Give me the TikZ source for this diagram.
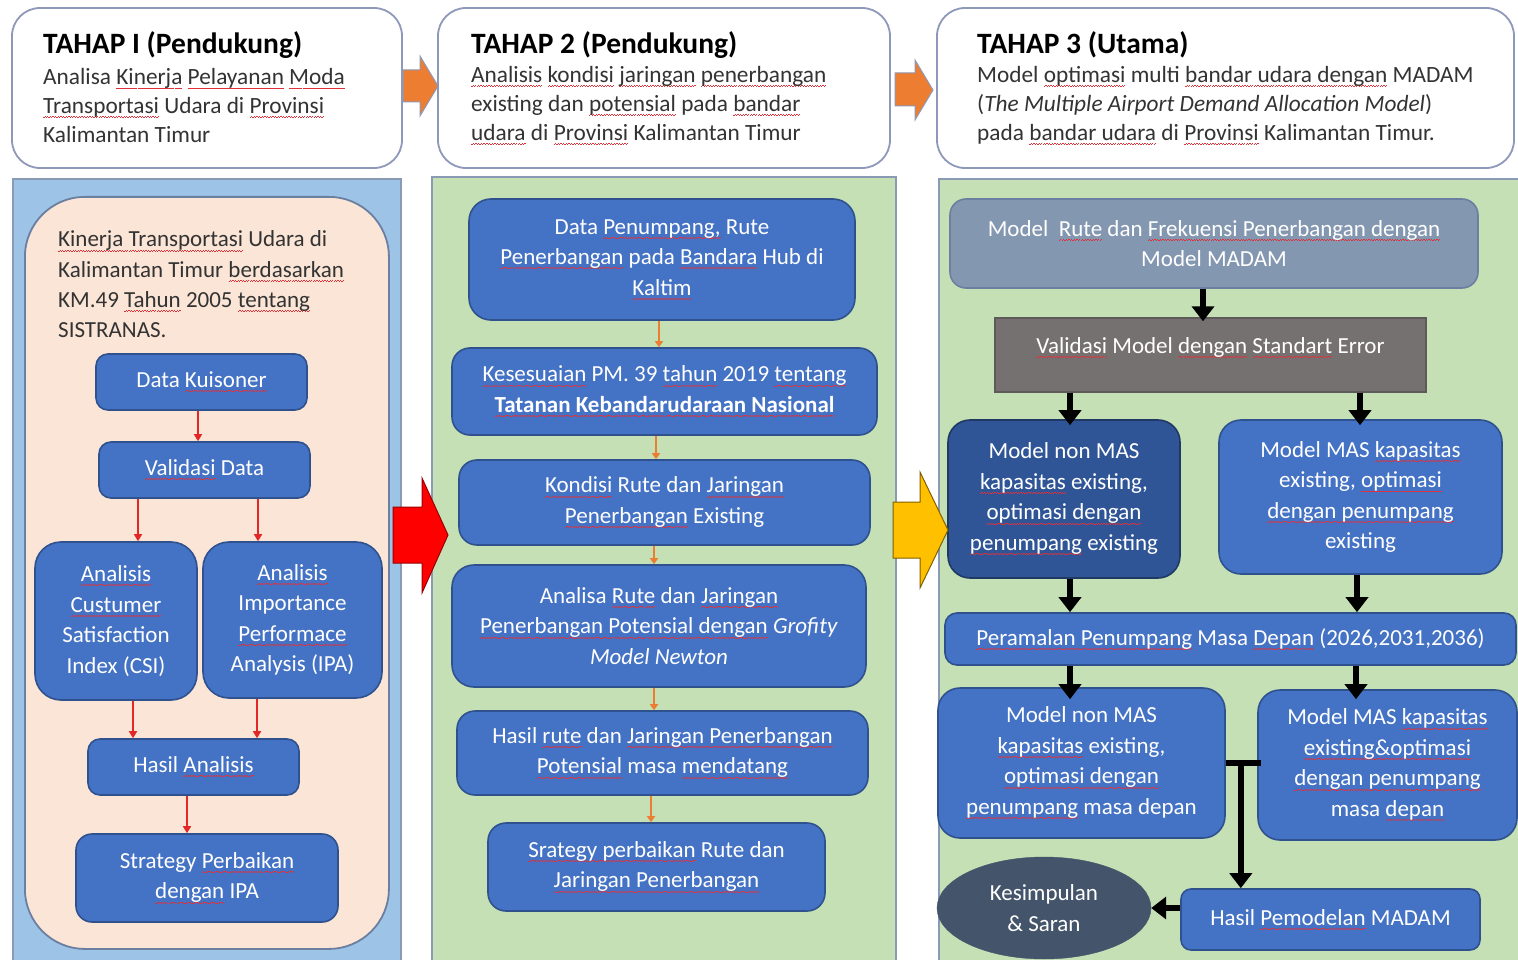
\documentclass[tikz,border=0pt]{standalone}
\usepackage{fontspec}
\setmainfont{Carlito}
\usetikzlibrary{arrows.meta,shapes.geometric}

\definecolor{boxblue}{HTML}{4472C4}
\definecolor{boxedge}{HTML}{2F528F}
\definecolor{darkblue}{HTML}{2F5597}
\definecolor{darkedge}{HTML}{203864}
\definecolor{slate}{HTML}{8497B0}
\definecolor{slateedge}{HTML}{6B7FA0}
\definecolor{taupe}{HTML}{767171}
\definecolor{taupeedge}{HTML}{5E5A5A}
\definecolor{navy}{HTML}{44546A}
\definecolor{hdredge}{HTML}{8E98B8}
\definecolor{skyfill}{HTML}{9DC3E6}
\definecolor{peach}{HTML}{FBE5D6}
\definecolor{leaf}{HTML}{C5E0B4}
\definecolor{paneledge}{HTML}{8A9AB4}
\definecolor{orangeA}{HTML}{ED7D31}
\definecolor{goldA}{HTML}{FFC000}
\definecolor{arrowred}{HTML}{E32626}
\definecolor{spell}{HTML}{E0303A}
\definecolor{inkgray}{HTML}{333333}

% proofing squiggle under a word or phrase
\newsavebox\wvybox
\newcommand\wvy[1]{\sbox\wvybox{#1}\rlap{\textcolor{spell}{\hbox to \wd\wvybox{\xleaders\hbox{\rule[-4.6pt]{1.3pt}{0.9pt}\rule[-3.7pt]{1.3pt}{0.9pt}}\hfill}}}\usebox\wvybox}
\newcommand\txt{\fontsize{23}{30.5}\selectfont}
\newcommand\hdtxt{\fontsize{23.3}{28.8}\selectfont}
\newcommand\hdbold{\fontsize{29.5}{34}\selectfont\bfseries}

\tikzset{
  hdrbox/.style={draw=hdredge, line width=1.8pt, fill=white, rounded corners=28pt, inner sep=0},
  panel/.style={draw=paneledge, line width=1.8pt, inner sep=0},
  bluebox/.style={draw=boxedge, line width=1.6pt, fill=boxblue, text=white, align=center,
    font=\txt, inner sep=0, rounded corners=#1},
  bluebox/.default=12pt,
  hdrhead/.style={anchor=west, inner sep=0, font=\hdbold, text=black},
  hdrbody/.style={anchor=west, inner sep=0, font=\hdtxt, text=inkgray, align=left},
  redarr/.style={draw=arrowred, line width=1.6pt, -{Triangle[width=8pt,length=7pt]}},
  orarr/.style={draw=orangeA, line width=1.6pt, -{Triangle[width=8pt,length=6pt]}},
  blkarr/.style={draw=black, line width=5.5pt, -{Triangle[width=22pt,length=15pt]}},
  blkline/.style={draw=black, line width=5.5pt},
  blockarrow/.style={line width=1pt, line join=miter},
}

\begin{document}
\begin{tikzpicture}[x=1pt,y=-1pt]
\useasboundingbox (0,0) rectangle (1518,960);
\clip (0,0) rectangle (1518,960);
\fill[white] (0,0) rectangle (1518,960);

% ---------- stage headers ----------
\node[hdrbox, minimum width=390pt, minimum height=160pt] (h1) at (207,88) {};
\node[hdrbox, minimum width=452pt, minimum height=160pt] (h2) at (664,88) {};
\node[hdrbox, minimum width=577pt, minimum height=160pt] (h3) at (1225.5,88) {};

\node[hdrhead] (h1t) at (43,45) {TAHAP I (Pendukung)};
\node[hdrbody] (h1b) at (43,105.5) {Analisa \wvy{Kinerja} \wvy{Pelayanan} \wvy{Moda}\\\wvy{Transportasi} Udara di \wvy{Provinsi}\\Kalimantan Timur};
\node[hdrhead] (h2t) at (471,45) {TAHAP 2 (Pendukung)};
\node[hdrbody] (h2b) at (471,105.5) {\wvy{Analisis} \wvy{kondisi} \wvy{jaringan} \wvy{penerbangan}\\existing dan \wvy{potensial} pada \wvy{bandar}\\\wvy{udara} di \wvy{Provinsi} Kalimantan Timur};
\node[hdrhead] (h3t) at (977,45) {TAHAP 3 (Utama)};
\node[hdrbody] (h3b) at (977,105.5) {Model \wvy{optimasi} multi \wvy{bandar udara dengan} MADAM\\(\textit{The Multiple Airport Demand Allocation Model})\\pada \wvy{bandar udara} di \wvy{Provinsi} Kalimantan Timur.};

% small block arrows between headers
\filldraw[blockarrow, fill=orangeA, draw=hdredge] (403,70) -- (420,70) -- (420,56) -- (438,86) -- (420,116) -- (420,102) -- (403,102) -- cycle;
\filldraw[blockarrow, fill=orangeA, draw=hdredge] (895,73) -- (915,73) -- (915,60) -- (933,90) -- (915,120) -- (915,106) -- (895,106) -- cycle;

% ---------- panels ----------
\node[panel, fill=skyfill, minimum width=388pt, minimum height=800pt, anchor=north west] (p1) at (12,178) {};
\node[draw=slateedge, line width=1.8pt, fill=peach, rounded corners=60pt, inner sep=0,
      minimum width=364pt, minimum height=752pt, anchor=north west] (p1in) at (24,196) {};
\node[panel, fill=leaf, minimum width=464pt, minimum height=800pt, anchor=north west] (p2) at (431,176) {};
\node[panel, fill=leaf, minimum width=600pt, minimum height=800pt, anchor=north west] (p3) at (938,178) {};

% ---------- stage 1 ----------
\node[anchor=west, inner sep=0, font=\fontsize{23}{30.3}\selectfont, text=inkgray, align=left] (intro) at (58,284.5)
  {\wvy{Kinerja Transportasi} Udara di\\Kalimantan Timur \wvy{berdasarkan}\\KM.49 \wvy{Tahun} 2005 \wvy{tentang}\\SISTRANAS.};

\node[bluebox, minimum width=211pt, minimum height=56pt] (dk) at (201.5,382) {Data \wvy{Kuisoner}};
\node[bluebox, minimum width=211pt, minimum height=56pt] (vd) at (204.5,470) {\wvy{Validasi} Data};
\node[bluebox=26pt, minimum width=162pt, minimum height=158pt] (csi) at (116,621) {\wvy{Analisis}\\\wvy{Custumer}\\Satisfaction\\Index (CSI)};
\node[bluebox=26pt, minimum width=179pt, minimum height=156pt] (ipa) at (292.5,620) {\wvy{Analisis}\\Importance\\\wvy{Performace}\\Analysis (IPA)};
\node[bluebox, minimum width=211pt, minimum height=56pt] (ha) at (193.5,767) {Hasil \wvy{Analisis}};
\node[bluebox=16pt, minimum width=262pt, minimum height=88pt] (st) at (207,878) {Strategy \wvy{Perbaikan}\\\wvy{dengan} IPA};

\draw[redarr] ([xshift=-3.5pt]dk.south) -- ([xshift=-6.5pt]vd.north);
\draw[redarr] ([xshift=-66.5pt]vd.south) -- ([xshift=22pt]csi.north);
\draw[redarr] ([xshift=53.5pt]vd.south) -- ([xshift=-34.5pt]ipa.north);
\draw[redarr] ([xshift=17pt]csi.south) -- ([xshift=-60.5pt]ha.north);
\draw[redarr] ([xshift=-35.5pt]ipa.south) -- ([xshift=63.5pt]ha.north);
\draw[redarr] ([xshift=-6.5pt]ha.south) -- ([xshift=-20pt]st.north);

% ---------- stage 2 ----------
\node[bluebox=22pt, minimum width=386pt, minimum height=121pt] (pa) at (662,259.5) {Data \wvy{Penumpang,} Rute\\\wvy{Penerbangan} pada \wvy{Bandara} Hub di\\\wvy{Kaltim}};
\node[bluebox=18pt, minimum width=425pt, minimum height=87pt] (pb) at (664.5,391.5) {\wvy{Kesesuaian} PM. 39 \wvy{tahun} 2019 \wvy{tentang}\\\textbf{\wvy{Tatanan Kebandarudaraan Nasional}}};
\node[bluebox=18pt, minimum width=411pt, minimum height=85pt] (pc) at (664.5,502.5) {\wvy{Kondisi} Rute dan \wvy{Jaringan}\\\wvy{Penerbangan} Existing};
\node[bluebox=22pt, minimum width=414pt, minimum height=122pt] (pd) at (659,626) {Analisa \wvy{Rute} dan \wvy{Jaringan}\\\wvy{Penerbangan Potensial dengan} \textit{Grofity}\\\textit{Model Newton}};
\node[bluebox=18pt, minimum width=411pt, minimum height=84pt] (pe) at (662.5,753) {Hasil \wvy{rute} dan \wvy{Jaringan Penerbangan}\\\wvy{Potensial} masa \wvy{mendatang}};
\node[bluebox=18pt, minimum width=337pt, minimum height=88pt] (pf) at (656.5,867) {\wvy{Srategy perbaikan} Rute dan\\\wvy{Jaringan Penerbangan}};

\draw[orarr] ([xshift=-3pt]pa.south) -- ([xshift=-5.5pt]pb.north);
\draw[orarr] ([xshift=-8.5pt]pb.south) -- ([xshift=-8.5pt]pc.north);
\draw[orarr] ([xshift=-10.5pt]pc.south) -- ([xshift=-5pt]pd.north);
\draw[orarr] ([xshift=-5pt]pd.south) -- ([xshift=-8.5pt]pe.north);
\draw[orarr] ([xshift=-11.5pt]pe.south) -- ([xshift=-5.5pt]pf.north);

% ---------- stage 3 ----------
\node[draw=slateedge, line width=1.6pt, fill=slate, text=white, align=center, font=\txt, inner sep=0,
      rounded corners=16pt, minimum width=528pt, minimum height=89pt] (m1) at (1214,243.5)
  {Model\ \ \wvy{Rute} dan \wvy{Frekuensi Penerbangan dengan}\\Model MADAM};
\node[draw=taupeedge, line width=1.4pt, fill=taupe, inner sep=0, minimum width=431pt, minimum height=74pt] (v) at (1210.5,355) {};
\node[inner sep=0, text=white, font=\txt] (vt) at (1210.5,348) {\wvy{Validasi} Model \wvy{dengan} \wvy{Standart} Error};
\node[bluebox=22pt, draw=darkedge, fill=darkblue, minimum width=232pt, minimum height=158pt] (n1) at (1064,499) {Model non MAS\\\wvy{kapasitas} existing,\\\wvy{optimasi dengan}\\\wvy{penumpang} existing};
\node[bluebox=22pt, minimum width=283pt, minimum height=154pt] (n2) at (1360.5,497) {Model MAS \wvy{kapasitas}\\existing, \wvy{optimasi}\\\wvy{dengan penumpang}\\existing};
\node[bluebox=12pt, minimum width=571pt, minimum height=52pt] (pr) at (1230.5,639) {\wvy{Peramalan Penumpang} Masa \wvy{Depan} (2026,2031,2036)};
\node[bluebox=22pt, minimum width=287pt, minimum height=150pt] (q1) at (1081.5,763) {Model non MAS\\\wvy{kapasitas} existing,\\\wvy{optimasi dengan}\\\wvy{penumpang} masa depan};
\node[bluebox=22pt, minimum width=259pt, minimum height=150pt] (q2) at (1387.5,765) {Model MAS \wvy{kapasitas}\\\wvy{existing\&optimasi}\\\wvy{dengan penumpang}\\masa \wvy{depan}};
\node[ellipse, draw=navy, fill=navy, text=white, align=center, font=\txt, inner sep=0,
      minimum width=214pt, minimum height=102pt] (k) at (1044,908) {Kesimpulan\\\& Saran};
\node[bluebox=10pt, minimum width=299pt, minimum height=61pt] (hm) at (1330.5,919.5) {Hasil \wvy{Pemodelan} MADAM};

\draw[blkarr] ([xshift=-11pt]m1.south) -- ([xshift=-7.5pt,yshift=-4pt]v.north);
\draw[blkarr] ([xshift=-140.5pt]v.south) -- ([xshift=6pt,yshift=-6pt]n1.north);
\draw[blkarr] ([xshift=149.5pt]v.south) -- ([xshift=-0.5pt,yshift=-6pt]n2.north);
\draw[blkarr] ([xshift=6pt]n1.south) -- ([xshift=-160.5pt]pr.north);
\draw[blkarr] ([xshift=-3.5pt]n2.south) -- ([xshift=126.5pt]pr.north);
\draw[blkarr] ([xshift=-160.5pt]pr.south) -- ([xshift=-11.5pt,yshift=-12pt]q1.north);
\draw[blkarr] ([xshift=125.5pt]pr.south) -- ([xshift=-31.5pt,yshift=-10pt]q2.north);
\draw[blkline] (q1.east) -- ([xshift=4pt]q1.east -| q2.west);
\coordinate (tj) at ([xshift=15pt]q1.east);
\draw[blkarr] (tj) -- (tj |- hm.north);
\draw[blkarr] (hm.west |- k.east) -- (k.east);

% ---------- block arrows between stages ----------
\filldraw[blockarrow, fill=red, draw=red!60!black] (393,507) -- (422,507) -- (422,478) -- (448,535) -- (422,593) -- (422,563) -- (393,563) -- cycle;
\filldraw[blockarrow, fill=goldA, draw=goldA!50!black] (893,502) -- (920,502) -- (920,472) -- (948,530) -- (920,588) -- (920,558) -- (893,558) -- cycle;
\end{tikzpicture}
\end{document}
